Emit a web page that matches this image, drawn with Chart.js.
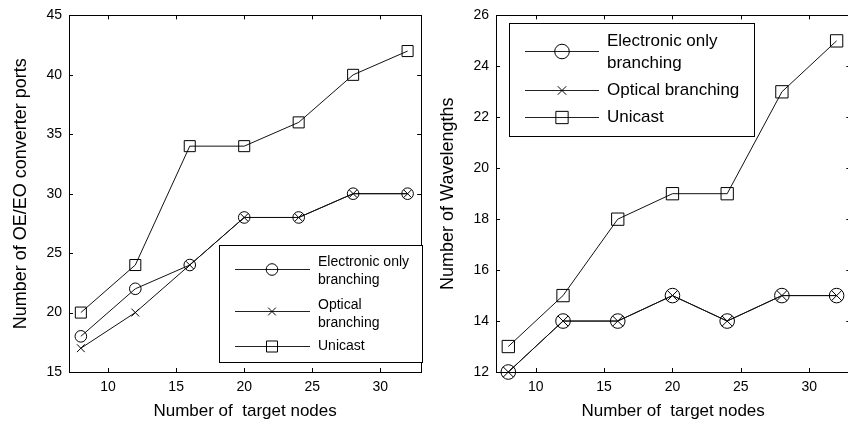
<!DOCTYPE html>
<html>
<head>
<meta charset="utf-8">
<script src="https://cdn.jsdelivr.net/npm/chart.js@4.4.1/dist/chart.umd.min.js"></script>
<style>
  html, body { margin: 0; padding: 0; background: #fff; overflow: hidden; width: 848px; height: 425px; }
  #wrap { position: relative; width: 848px; height: 425px; overflow: hidden; }
  canvas { position: absolute; top: 0; }
  #c1 { left: 0; }
  #c2 { left: 430px; }
</style>
</head>
<body>
<div id="wrap">
  <canvas id="c1" width="430" height="425"></canvas>
  <canvas id="c2" width="430" height="425"></canvas>
</div>
<script>
// ---- Data ----
const targetNodes = [8, 12, 16, 20, 24, 28, 32];
const seriesNames = ['Electronic only branching', 'Optical branching', 'Unicast'];

// Left: OE/EO converter ports
const portsElectronic = [18, 22, 24, 28, 28, 30, 30];
const portsOptical    = [17, 20, 24, 28, 28, 30, 30];
const portsUnicast    = [20, 24, 34, 34, 36, 40, 42];

// Right: wavelengths
const wlElectronic = [12, 14, 14, 15, 14, 15, 15];
const wlOptical    = [12, 14, 14, 15, 14, 15, 15];
const wlUnicast    = [13, 15, 18, 19, 19, 23, 25];

const xTicks = [10, 15, 20, 25, 30];
const yTicksPorts = [15, 20, 25, 30, 35, 40, 45];
const yTicksWl = [12, 14, 16, 18, 20, 22, 24, 26];

const legendLinesLeft  = [['Electronic only', 'branching'], ['Optical', 'branching'], ['Unicast']];
const legendLinesRight = [['Electronic only', 'branching'], ['Optical branching'], ['Unicast']];

const xTitle = 'Number of  target nodes';
const yTitlePorts = 'Number of OE/EO converter ports';
const yTitleWl = 'Number of Wavelengths';

const FONT = "'Liberation Sans', Arial, sans-serif";
const styles = ['circle', 'crossRot', 'rect'];

function pts(arr) { return targetNodes.map((x, i) => ({ x: x, y: arr[i] })); }

function drawMarker(ctx, style, x, y, r) {
  ctx.beginPath();
  if (style === 'circle') {
    ctx.arc(x, y, r, 0, Math.PI * 2);
  } else if (style === 'crossRot') {
    const d = r * Math.SQRT1_2;
    ctx.moveTo(x - d, y - d); ctx.lineTo(x + d, y + d);
    ctx.moveTo(x - d, y + d); ctx.lineTo(x + d, y - d);
  } else {
    const s = r * Math.SQRT1_2;
    ctx.rect(x - s, y - s, 2 * s, 2 * s);
  }
  ctx.stroke();
}

const framePlugin = {
  id: 'frame',
  afterDraw(chart, args, opts) {
    const ctx = chart.ctx;
    const a = chart.chartArea;
    const xs = chart.scales.x, ys = chart.scales.y;
    ctx.save();
    ctx.strokeStyle = '#000';
    ctx.lineWidth = 1;
    ctx.strokeRect(Math.round(a.left) + 0.5, Math.round(a.top) + 0.5,
                   Math.round(a.right - a.left), Math.round(a.bottom - a.top));
    const tl = 4;
    ctx.beginPath();
    xs.ticks.forEach(t => {
      const px = Math.round(xs.getPixelForValue(t.value)) + 0.5;
      ctx.moveTo(px, a.bottom); ctx.lineTo(px, a.bottom - tl);
      ctx.moveTo(px, a.top); ctx.lineTo(px, a.top + tl);
    });
    ys.ticks.forEach(t => {
      const py = Math.round(ys.getPixelForValue(t.value)) + 0.5;
      ctx.moveTo(a.left, py); ctx.lineTo(a.left + tl, py);
      ctx.moveTo(a.right, py); ctx.lineTo(a.right - tl, py);
    });
    ctx.stroke();

    // legend
    const L = opts.legend;
    if (L) {
      ctx.fillStyle = '#fff';
      ctx.fillRect(L.box[0], L.box[1], L.box[2] - L.box[0], L.box[3] - L.box[1]);
      ctx.strokeStyle = '#000';
      ctx.lineWidth = 1;
      ctx.strokeRect(L.box[0] + 0.5, L.box[1] + 0.5, L.box[2] - L.box[0], L.box[3] - L.box[1]);
      ctx.font = L.fontSize + 'px ' + FONT;
      ctx.textBaseline = 'middle';
      ctx.textAlign = 'left';
      L.lines.forEach((textLines, i) => {
        const sy = L.sampleY[i] + 0.5;
        ctx.strokeStyle = '#222';
        ctx.beginPath();
        ctx.moveTo(L.sampleX[0], sy); ctx.lineTo(L.sampleX[1], sy);
        ctx.stroke();
        ctx.strokeStyle = '#000';
        drawMarker(ctx, styles[i], L.markerX, sy, L.markerR[i]);
        ctx.fillStyle = '#000';
        textLines.forEach((tx, j) => {
          ctx.fillText(tx, L.textX, L.textY[i] + j * L.lineH);
        });
      });
    }
    ctx.restore();
  }
};

function makeChart(id, d1, d2, d3, yMin, yMax, yTicks, yTitle, cfg) {
  const mk = (label, data, style, r) => ({
    label: label, data: pts(data),
    borderColor: '#111', borderWidth: 1,
    pointStyle: style, pointRadius: r, pointHoverRadius: r,
    pointBorderColor: '#000', pointBorderWidth: 1,
    pointBackgroundColor: 'rgba(0,0,0,0)',
    tension: 0, fill: false, clip: false
  });
  return new Chart(document.getElementById(id), {
    type: 'line',
    data: {
      datasets: [
        mk(seriesNames[0], d1, 'circle', cfg.rCircle),
        mk(seriesNames[1], d2, 'crossRot', cfg.rCross),
        mk(seriesNames[2], d3, 'rect', cfg.rRect)
      ]
    },
    options: {
      responsive: false, animation: false, devicePixelRatio: 1,
      layout: { padding: { top: 10, right: cfg.padRight, left: 0, bottom: 0 } },
      plugins: {
        legend: { display: false }, tooltip: { enabled: false },
        frame: { legend: cfg.legend }
      },
      scales: {
        x: {
          type: 'linear', min: cfg.xMin, max: cfg.xMax,
          grid: { display: false, drawTicks: false }, border: { display: false },
          afterBuildTicks: s => { s.ticks = xTicks.map(v => ({ value: v })); },
          afterFit: s => { s.height = 53; },
          ticks: { color: '#000', font: { family: FONT, size: 14 }, padding: 7, maxRotation: 0 },
          title: { display: true, text: xTitle, color: '#000', font: { family: FONT, size: 17 }, padding: { top: 3, bottom: 3 } }
        },
        y: {
          type: 'linear', min: yMin, max: yMax,
          grid: { display: false, drawTicks: false }, border: { display: false },
          afterBuildTicks: s => { s.ticks = yTicks.map(v => ({ value: v })); },
          afterFit: s => { s.width = cfg.yWidth; },
          ticks: { color: '#000', font: { family: FONT, size: 14 }, padding: 7 },
          title: { display: true, text: yTitle, color: '#000', font: { family: FONT, size: cfg.yTitleSize }, padding: { top: cfg.yTitlePad, bottom: cfg.yTitlePad } }
        }
      }
    },
    plugins: [framePlugin]
  });
}

makeChart('c1', portsElectronic, portsOptical, portsUnicast, 15, 45, yTicksPorts, yTitlePorts, {
  xMin: 7.13, xMax: 33.0, padRight: 3, yWidth: 69, yTitleSize: 18, yTitlePad: 10,
  rCircle: 5.8, rCross: 5.5, rRect: 7.8,
  legend: {
    box: [219, 245, 422, 362], fontSize: 14, lineH: 18,
    lines: legendLinesLeft,
    sampleX: [235, 310], markerX: 272, markerR: [5.8, 5.5, 7.8],
    sampleY: [269, 311, 346], textX: 318, textY: [262, 305, 346]
  }
});

makeChart('c2', wlElectronic, wlOptical, wlUnicast, 12, 26, yTicksWl, yTitleWl, {
  xMin: 7.1, xMax: 33.0, padRight: 6, yWidth: 66, yTitleSize: 18, yTitlePad: 7,
  rCircle: 7.3, rCross: 7.3, rRect: 8.7,
  legend: {
    box: [79, 23, 324, 136], fontSize: 17, lineH: 22,
    lines: legendLinesRight,
    sampleX: [95, 169], markerX: 132, markerR: [7.3, 6, 8.7],
    sampleY: [51, 90, 117], textX: 177, textY: [41, 90, 117]
  }
});
</script>
</body>
</html>
